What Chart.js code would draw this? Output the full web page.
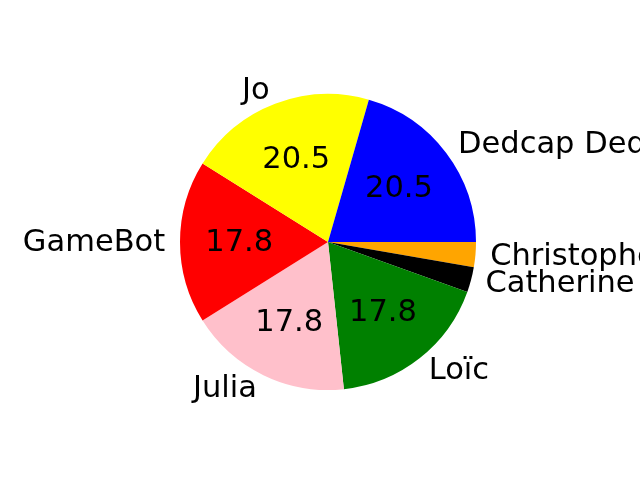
<!DOCTYPE html>
<html>
<head>
<meta charset="utf-8">
<script src="https://cdn.jsdelivr.net/npm/chart.js@4/dist/chart.umd.min.js"></script>
<style>
  html, body { margin: 0; padding: 0; background: #fff; }
  #wrap { width: 640px; height: 480px; }
</style>
</head>
<body>
<div id="wrap"><canvas id="pie"></canvas></div>
<script>
/* DATA (matplotlib order, counter-clockwise from east) */
const names = ["Dedcap Dedcap", "Jo", "GameBot", "Julia", "Loïc", "Catherine", "Christophe"];
const counts = [15, 15, 13, 13, 13, 2, 2];
const colors = ["#0000ff", "#ffff00", "#ff0000", "#ffc0cb", "#008000", "#000000", "#ffa500"];

// chart.js goes clockwise, so flip the order
const labelsCw = [...names].reverse();
const countsCw = [...counts].reverse();
const colorsCw = [...colors].reverse();

const FONT = "30.5px 'DejaVu Sans'";

/* text labels like matplotlib: names at 1.1 r, percents at 0.6 r */
const pieText = {
  id: "pieText",
  afterDatasetsDraw(chart) {
    const ctx = chart.ctx;
    const meta = chart.getDatasetMeta(0);
    const total = countsCw.reduce((a, b) => a + b, 0);
    ctx.save();
    ctx.font = FONT;
    ctx.fillStyle = "#000";
    ctx.textBaseline = "middle";
    meta.data.forEach((arc, i) => {
      const mid = (arc.startAngle + arc.endAngle) / 2;
      const r = arc.outerRadius;
      const cos = Math.cos(mid), sin = Math.sin(mid);

      ctx.textAlign = cos >= 0 ? "left" : "right";
      ctx.fillText(labelsCw[i], arc.x + 1.1 * r * cos, arc.y + 1.1 * r * sin + 1);

      const pct = (countsCw[i] / total) * 100;
      if (pct >= 5) {
        ctx.textAlign = "center";
        ctx.fillText(pct.toFixed(1), arc.x + 0.6 * r * cos, arc.y + 0.6 * r * sin + 1);
      }
    });
    ctx.restore();
  },
};

new Chart(document.getElementById("pie"), {
  type: "pie",
  data: {
    labels: labelsCw,
    datasets: [
      {
        data: countsCw,
        backgroundColor: colorsCw,
        borderWidth: 0,
      },
    ],
  },
  options: {
    responsive: true,
    maintainAspectRatio: false,
    animation: false,
    rotation: 90,
    layout: { padding: { top: 94, bottom: 90, left: 180, right: 164 } },
    plugins: {
      legend: { display: false },
      tooltip: { enabled: false },
    },
  },
  plugins: [pieText],
});
</script>
</body>
</html>
